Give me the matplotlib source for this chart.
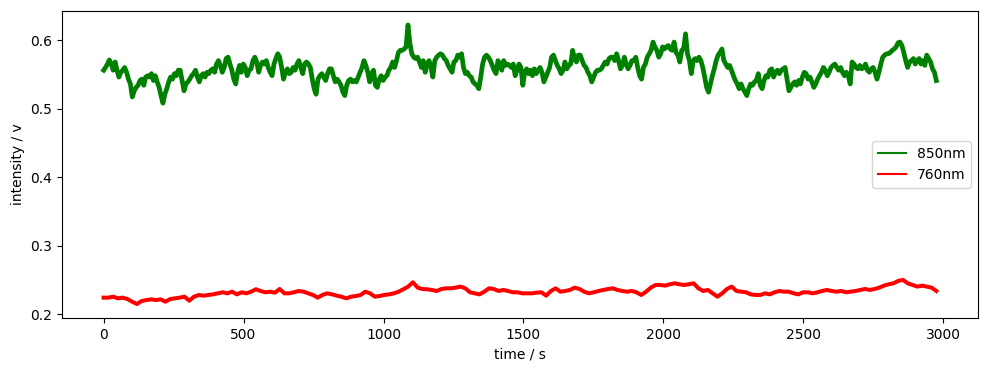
import numpy as np
import matplotlib
matplotlib.use("Agg")
import matplotlib.pyplot as plt

green_850 = [
    0.556, 0.560, 0.565, 0.571, 0.565, 0.556, 0.568, 0.556, 0.546, 0.553, 0.556, 0.560, 0.553, 0.543, 0.536,
    0.517, 0.526, 0.531, 0.534, 0.541, 0.543, 0.534, 0.546, 0.548, 0.546, 0.551, 0.541, 0.548, 0.539, 0.531,
    0.519, 0.508, 0.521, 0.529, 0.539, 0.546, 0.543, 0.551, 0.548, 0.556, 0.556, 0.541, 0.526, 0.536, 0.539,
    0.543, 0.548, 0.551, 0.556, 0.546, 0.539, 0.548, 0.551, 0.546, 0.553, 0.551, 0.556, 0.558, 0.553, 0.565,
    0.570, 0.563, 0.553, 0.560, 0.573, 0.575, 0.565, 0.556, 0.543, 0.536, 0.553, 0.563,
    # ~500 s
    0.553, 0.565, 0.560, 0.548, 0.556, 0.558, 0.570, 0.575, 0.568, 0.553, 0.563, 0.568, 0.565, 0.570, 0.560,
    0.553, 0.548, 0.565, 0.573, 0.580, 0.575, 0.560, 0.543, 0.553, 0.558, 0.551, 0.553, 0.560, 0.556, 0.565,
    0.570, 0.560, 0.551, 0.565, 0.568, 0.565, 0.560, 0.543, 0.529, 0.521, 0.543, 0.548, 0.551, 0.546, 0.541,
    0.551, 0.558, 0.558, 0.548, 0.539, 0.543, 0.539, 0.534, 0.524, 0.519, 0.534, 0.541, 0.543, 0.539, 0.541,
    0.539, 0.546, 0.553, 0.560, 0.570, 0.563, 0.553, 0.539, 0.551, 0.556, 0.534, 0.531, 0.543, 0.548,
    # ~1000 s
    0.541, 0.546, 0.548, 0.556, 0.560, 0.568, 0.560, 0.570, 0.582, 0.585, 0.585, 0.587, 0.590, 0.622, 0.595,
    0.580, 0.575, 0.573, 0.575, 0.568, 0.560, 0.570, 0.553, 0.565, 0.570, 0.560, 0.546, 0.570, 0.575, 0.578,
    0.580, 0.578, 0.573, 0.570, 0.563, 0.558, 0.553, 0.568, 0.570, 0.578, 0.575, 0.580, 0.560, 0.551, 0.553,
    0.548, 0.546, 0.539, 0.536, 0.534, 0.529, 0.546, 0.565, 0.575, 0.578, 0.575, 0.570, 0.563, 0.556, 0.551,
    0.570, 0.565, 0.556, 0.570, 0.563, 0.565, 0.563, 0.560, 0.565, 0.548, 0.556, 0.565, 0.560, 0.534,
    # ~1530 s
    0.553, 0.558, 0.551, 0.556, 0.548, 0.558, 0.551, 0.556, 0.560, 0.553, 0.539, 0.546, 0.553, 0.560, 0.575,
    0.578, 0.570, 0.563, 0.558, 0.551, 0.556, 0.568, 0.558, 0.563, 0.565, 0.585, 0.573, 0.568, 0.578, 0.578,
    0.570, 0.563, 0.560, 0.553, 0.548, 0.539, 0.546, 0.553, 0.556, 0.556, 0.558, 0.563, 0.568, 0.565, 0.573,
    0.575, 0.575, 0.570, 0.580, 0.570, 0.558, 0.563, 0.575, 0.565, 0.558, 0.563, 0.570, 0.570, 0.575, 0.560,
    0.548, 0.543, 0.560, 0.565, 0.575, 0.580, 0.585, 0.597, 0.590, 0.585, 0.575, 0.580, 0.590, 0.587,
    # ~2050 s
    0.590, 0.592, 0.587, 0.585, 0.597, 0.582, 0.578, 0.568, 0.585, 0.587, 0.609, 0.580, 0.570, 0.551, 0.570,
    0.573, 0.570, 0.575, 0.570, 0.560, 0.546, 0.531, 0.524, 0.536, 0.548, 0.558, 0.570, 0.578, 0.582, 0.587,
    0.570, 0.565, 0.560, 0.563, 0.556, 0.548, 0.541, 0.536, 0.529, 0.536, 0.529, 0.524, 0.519, 0.529, 0.536,
    0.534, 0.539, 0.541, 0.551, 0.534, 0.529, 0.541, 0.548, 0.546, 0.556, 0.558, 0.546, 0.553, 0.556, 0.551,
    0.556, 0.558, 0.560, 0.543, 0.526, 0.531, 0.536, 0.539, 0.534, 0.541, 0.536, 0.546, 0.553, 0.551, 0.543,
    # ~2560 s
    0.546, 0.539, 0.531, 0.536, 0.543, 0.548, 0.553, 0.560, 0.556, 0.548, 0.553, 0.560, 0.563, 0.565, 0.560,
    0.556, 0.560, 0.553, 0.548, 0.553, 0.548, 0.536, 0.568, 0.565, 0.560, 0.558, 0.563, 0.558, 0.560, 0.565,
    0.556, 0.553, 0.558, 0.560, 0.553, 0.543, 0.553, 0.565, 0.575, 0.578, 0.580, 0.580, 0.582, 0.585, 0.587,
    0.590, 0.596, 0.597, 0.592, 0.582, 0.570, 0.560, 0.568, 0.570, 0.573, 0.565, 0.570, 0.573, 0.565, 0.570,
    0.563, 0.578, 0.573, 0.568, 0.558, 0.553, 0.541,
]

red_760 = [
    0.2245, 0.2245, 0.2259, 0.2235, 0.2245, 0.2225, 0.2186, 0.2152, 0.2196, 0.2210, 0.2220, 0.2210, 0.2220,
    0.2186, 0.2225, 0.2235, 0.2245, 0.2259, 0.2201, 0.2259, 0.2284, 0.2274, 0.2284, 0.2293, 0.2308, 0.2323,
    0.2308, 0.2332, 0.2293, 0.2323, 0.2308, 0.2332, 0.2367, 0.2342, 0.2323, 0.2332, 0.2318, 0.2371, 0.2308,
    0.2308, 0.2323, 0.2342, 0.2332, 0.2308, 0.2284, 0.2245, 0.2284, 0.2308, 0.2293, 0.2274, 0.2259, 0.2235,
    0.2259, 0.2269, 0.2284, 0.2332, 0.2308, 0.2259,
    # ~1000 s
    0.2269, 0.2284, 0.2293, 0.2308, 0.2332, 0.2367, 0.2406, 0.2469, 0.2391, 0.2371, 0.2367, 0.2357, 0.2342,
    0.2371, 0.2381, 0.2381, 0.2391, 0.2406, 0.2381, 0.2323, 0.2308, 0.2293, 0.2332, 0.2381, 0.2371, 0.2342,
    0.2357, 0.2342, 0.2323, 0.2323, 0.2308, 0.2308, 0.2308, 0.2318, 0.2323, 0.2274, 0.2342, 0.2381, 0.2332,
    0.2342, 0.2357, 0.2391, 0.2371, 0.2332, 0.2308, 0.2323, 0.2342, 0.2357, 0.2371, 0.2381, 0.2357, 0.2342,
    0.2332, 0.2342, 0.2323, 0.2284, 0.2332, 0.2391, 0.2430,
    # ~2000 s
    0.2430, 0.2420, 0.2440, 0.2454, 0.2440, 0.2430, 0.2440, 0.2454, 0.2381, 0.2342, 0.2357, 0.2308, 0.2259,
    0.2308, 0.2371, 0.2406, 0.2342, 0.2332, 0.2323, 0.2293, 0.2284, 0.2284, 0.2308, 0.2293, 0.2323, 0.2342,
    0.2332, 0.2332, 0.2308, 0.2293, 0.2323, 0.2323, 0.2308, 0.2323, 0.2342, 0.2357, 0.2342, 0.2332, 0.2342,
    0.2323, 0.2332, 0.2342, 0.2357, 0.2371, 0.2357, 0.2371, 0.2391, 0.2420, 0.2440, 0.2454, 0.2489, 0.2503,
    0.2454, 0.2430, 0.2406, 0.2420, 0.2406, 0.2391, 0.2342,
]

t_end = 2975.0
time_g = np.linspace(0, t_end, len(green_850))
time_r = np.linspace(0, t_end, len(red_760))

fig = plt.figure(figsize=(10.01, 3.71), dpi=100)
ax = fig.add_axes([0.0619, 0.1429, 0.9151, 0.8275])
ax.plot(time_g, green_850, color='green', lw=3.4, label='850nm')
ax.plot(time_r, red_760, color='red', lw=2.9, label='760nm')
ax.set_xlabel('time / s')
ax.set_ylabel('intensity / v')
ax.set_yticks([0.2, 0.3, 0.4, 0.5, 0.6])
ax.set_xticks([0, 500, 1000, 1500, 2000, 2500, 3000])
leg = ax.legend(loc='center right')
for h in leg.get_lines():
    h.set_linewidth(1.5)
fig.savefig('out.png', dpi=100)
